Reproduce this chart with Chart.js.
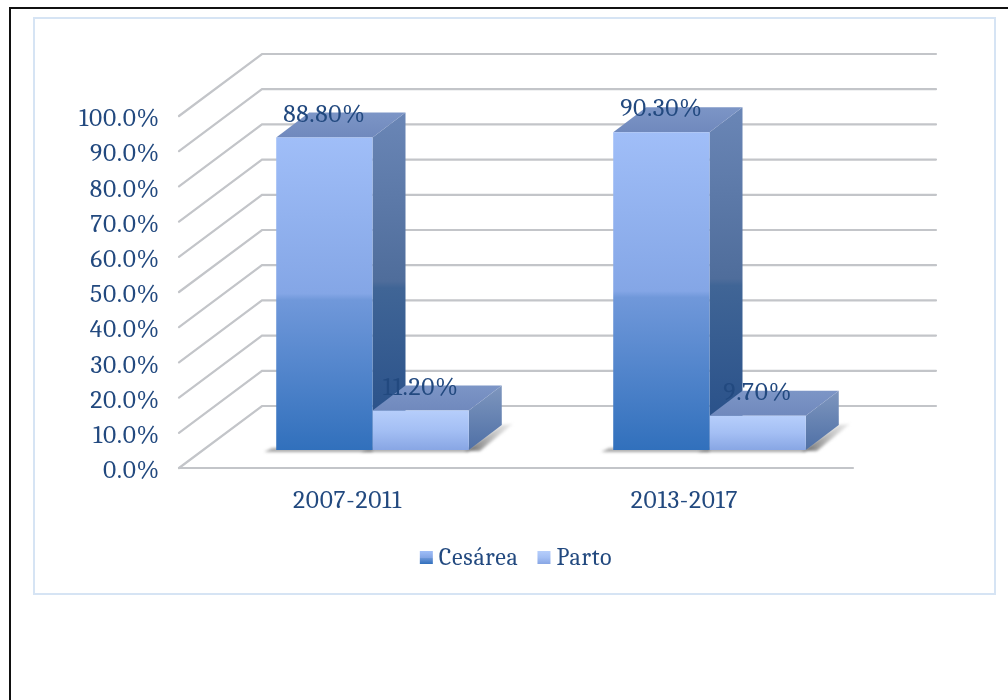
<!DOCTYPE html>
<html lang="es">
<head>
<meta charset="utf-8">
<title>Cesárea y parto, 2007-2017</title>
<script src="https://cdn.jsdelivr.net/npm/chart.js@4/dist/chart.umd.min.js"></script>
<style>
  html, body { margin: 0; padding: 0; background: #fff; width: 1008px; height: 700px; overflow: hidden; }
  #page-top { position: absolute; left: 9px; top: 7px; right: 0; height: 2px; background: #111; }
  #page-left { position: absolute; left: 9px; top: 7px; bottom: 0; width: 2px; background: #111; }
  #panel { position: absolute; left: 33px; top: 17px; width: 959px; height: 574px; border: 2px solid #D6E4F4; }
  canvas { position: absolute; left: 0; top: 0; }
</style>
</head>
<body>
<div id="page-top"></div>
<div id="page-left"></div>
<div id="panel"></div>
<canvas id="chart" width="1008" height="700"></canvas>
<script>
// Periods and the share of each type of delivery, in percent.
const categories = ['2007-2011', '2013-2017'];
const cesarea = [88.8, 90.3];
const parto = [11.2, 9.7];
const seriesNames = ['Cesárea', 'Parto'];

const INK = '#22497F';
const FONT = 'Cambria, "Liberation Serif", serif';
const FONT_SIZE = 25.5;
const LEGEND_SIZE = 24;

// Oblique projection: the bars stand part way into the floor, the wall at the back.
const WALL = { dx: 83, dy: 62 };
const BAR_PLANE = { dx: 25, dy: 18 };
const BAR_DEPTH = { dx: 33, dy: 25 };

function stops(g, list) {
  list.forEach(([p, c]) => g.addColorStop(p, c));
  return g;
}

function frontFill(ctx, top, bottom, seriesIndex) {
  const g = ctx.createLinearGradient(0, top, 0, bottom);
  return seriesIndex === 0
    ? stops(g, [[0, '#A0BEF8'], [0.5, '#84A6E6'], [0.52, '#7098DA'], [1, '#3170BC']])
    : stops(g, [[0, '#B6CEFB'], [0.5, '#A4BFF4'], [1, '#88A6E4']]);
}

// Soft ground shadow plus the side and top faces behind one front face.
function drawFaces(ctx, bar, seriesIndex) {
  const { dx, dy } = BAR_DEPTH;
  const p = bar.getProps(['x', 'y', 'base', 'width'], true);
  const l = p.x - p.width / 2, r = p.x + p.width / 2;

  ctx.save();
  ctx.filter = 'blur(1.5px)';
  if (seriesIndex === 1) {
    const shade = ctx.createLinearGradient(r, 0, r + dx + 10, 0);
    stops(shade, [[0, 'rgba(100,100,100,0.95)'], [1, 'rgba(195,195,195,0.35)']]);
    ctx.fillStyle = shade;
    ctx.beginPath();
    ctx.moveTo(r - 4, p.base + 1);
    ctx.lineTo(r + 11, p.base + 1);
    ctx.lineTo(r + dx + 11, p.base - dy - 1);
    ctx.lineTo(r + dx, p.base - dy);
    ctx.closePath();
    ctx.fill();
  }
  ctx.fillStyle = 'rgba(120,120,120,0.65)';
  ctx.beginPath();
  ctx.moveTo(l - 12, p.base + 2);
  ctx.lineTo(r, p.base + 2);
  ctx.lineTo(r, p.base - 2);
  ctx.lineTo(l - 4, p.base - 2);
  ctx.closePath();
  ctx.fill();
  ctx.restore();

  const side = ctx.createLinearGradient(0, p.y - dy, 0, p.base);
  if (seriesIndex === 0) {
    stops(side, [[0, '#6A86B6'], [0.5, '#4F6D9B'], [0.52, '#406596'], [1, '#254D87']]);
  } else {
    stops(side, [[0, '#7E96BE'], [1, '#4F70A6']]);
  }
  ctx.fillStyle = side;
  ctx.beginPath();
  ctx.moveTo(r, p.y);
  ctx.lineTo(r + dx, p.y - dy);
  ctx.lineTo(r + dx, p.base - dy);
  ctx.lineTo(r, p.base);
  ctx.closePath();
  ctx.fill();

  const top = ctx.createLinearGradient(0, p.y - dy, 0, p.y);
  stops(top, [[0, '#7C95C6'], [1, '#7089BD']]);
  ctx.fillStyle = top;
  ctx.beginPath();
  ctx.moveTo(l, p.y);
  ctx.lineTo(l + dx, p.y - dy);
  ctx.lineTo(r + dx, p.y - dy);
  ctx.lineTo(r, p.y);
  ctx.closePath();
  ctx.fill();
}

// Wall and floor rules from the value scale's ticks, then the depth faces
// of every bar, first series first so the shorter bars overlap the taller.
const scene = {
  id: 'scene',
  beforeDatasetsDraw(chart) {
    const { ctx, scales: { x, y } } = chart;
    const left = x.left, right = x.right;
    ctx.save();
    ctx.lineCap = 'round';
    ctx.filter = 'blur(0.4px)';
    ctx.strokeStyle = '#C3C5C9';
    ctx.lineWidth = 2.2;
    y.ticks.forEach((tick) => {
      const py = y.getPixelForValue(tick.value);
      ctx.beginPath();
      ctx.moveTo(left, py);
      ctx.lineTo(left + WALL.dx, py - WALL.dy);
      ctx.lineTo(right + WALL.dx, py - WALL.dy);
      ctx.stroke();
    });
    const floor = y.getPixelForValue(0);
    ctx.beginPath();
    ctx.moveTo(left, floor);
    ctx.lineTo(right, floor);
    ctx.stroke();
    ctx.restore();

    // Everything the bars draw from here on sits on the bar plane.
    ctx.save();
    ctx.translate(BAR_PLANE.dx, -BAR_PLANE.dy);
    chart.data.datasets.forEach((ds, i) => {
      chart.getDatasetMeta(i).data.forEach((bar) => drawFaces(ctx, bar, i));
    });
  },
  afterDatasetsDraw(chart) {
    const { ctx } = chart;
    ctx.fillStyle = INK;
    ctx.font = FONT_SIZE + 'px ' + FONT;
    ctx.textAlign = 'center';
    ctx.textBaseline = 'middle';
    chart.data.datasets.forEach((ds, i) => {
      chart.getDatasetMeta(i).data.forEach((bar, j) => {
        const p = bar.getProps(['x', 'y'], true);
        ctx.fillText(ds.data[j].toFixed(2) + '%', p.x, p.y - 23);
      });
    });
    ctx.restore();
  }
};

// Legend swatches carry the same gradients as the bars.
const legendSwatches = {
  id: 'legendSwatches',
  afterDraw(chart) {
    const { ctx, legend } = chart;
    legend.legendHitBoxes.forEach((box, i) => {
      const t = box.top + box.height / 2 - 7;
      ctx.fillStyle = frontFill(ctx, t, t + 13, i);
      ctx.fillRect(box.left, t, 13, 13);
    });
  }
};

// The serif in use runs a little narrower than the chart's lettering.
const tracking = {
  id: 'tracking',
  beforeLayout(chart) { chart.ctx.letterSpacing = '0.7px'; },
  beforeDraw(chart) { chart.ctx.letterSpacing = '0.7px'; }
};

function barFill(seriesIndex) {
  return (c) => {
    if (!c.chart.chartArea || !c.parsed) return '#7FA3E4';
    const scale = c.chart.scales.y;
    const top = scale.getPixelForValue(c.parsed.y);
    const bottom = scale.getPixelForValue(0);
    return frontFill(c.chart.ctx, top, bottom, seriesIndex);
  };
}

new Chart(document.getElementById('chart'), {
  type: 'bar',
  data: {
    labels: categories,
    datasets: [
      { label: seriesNames[0], data: cesarea, backgroundColor: barFill(0), clip: false },
      { label: seriesNames[1], data: parto, backgroundColor: barFill(1), clip: false }
    ]
  },
  plugins: [tracking, scene, legendSwatches],
  options: {
    responsive: false,
    animation: false,
    events: [],
    layout: { padding: { top: 116, right: 155, bottom: 120, left: 0 } },
    datasets: { bar: { barPercentage: 1, categoryPercentage: 0.5714 } },
    scales: {
      x: {
        grid: { display: false },
        border: { display: false },
        ticks: { color: INK, font: { family: FONT, size: FONT_SIZE }, padding: 9, maxRotation: 0 },
        afterFit(s) { s.height = 59; }
      },
      y: {
        min: 0,
        max: 100,
        grid: { display: false },
        border: { display: false },
        ticks: {
          stepSize: 10,
          color: INK,
          font: { family: FONT, size: FONT_SIZE },
          padding: 11,
          labelOffset: 3,
          callback: (v) => v.toFixed(1) + '%'
        },
        afterFit(s) { s.width = 179; }
      }
    },
    plugins: {
      title: { display: false },
      tooltip: { enabled: false },
      legend: {
        position: 'bottom',
        fullSize: false,
        labels: {
          color: INK,
          font: { family: FONT, size: LEGEND_SIZE },
          boxWidth: 7,
          boxHeight: 13,
          padding: 19,
          generateLabels(chart) {
            return chart.data.datasets.map((d, i) => ({
              text: d.label,
              fillStyle: 'rgba(0,0,0,0)',
              strokeStyle: 'rgba(0,0,0,0)',
              lineWidth: 0,
              fontColor: INK,
              datasetIndex: i
            }));
          }
        }
      }
    }
  }
});
</script>
</body>
</html>
